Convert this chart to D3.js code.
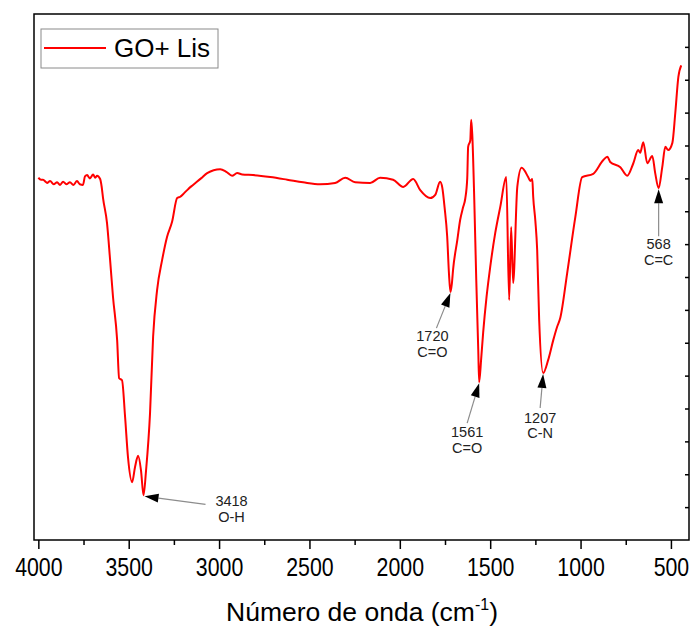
<!DOCTYPE html>
<html>
<head>
<meta charset="utf-8">
<script src="https://cdn.jsdelivr.net/npm/d3@7"></script>
<style>
  body { margin: 0; background: #fff; }
  text { font-family: "Liberation Sans", Arial, sans-serif; }
</style>
</head>
<body>
<svg id="chart" width="692" height="628"></svg>
<script>
"use strict";

// FTIR spectrum, GO + Lis (wavenumber in cm-1, transmittance in arbitrary %)
var wavenumber = [4000, 3985, 3974, 3960, 3952, 3935, 3915, 3896, 3880, 3863, 3845, 3825, 3806, 3786, 3770, 3753,
  3742, 3730, 3715, 3697, 3685, 3675, 3658, 3650, 3642, 3620, 3603, 3587, 3564, 3553, 3537, 3520, 3504,
  3481, 3465, 3448, 3432, 3418, 3404, 3382, 3365, 3343, 3315, 3288, 3260, 3232, 3215, 3199, 3170, 3144, 3100, 3066,
  2994, 2960, 2928, 2900, 2872, 2812, 2717, 2623, 2535, 2441, 2358, 2302, 2247, 2164, 2109, 2037,
  1981, 1926, 1887, 1832, 1804, 1777, 1765, 1752, 1738, 1728, 1720, 1712, 1705, 1682, 1666, 1650, 1638, 1627, 1622,
  1610, 1605, 1599, 1588, 1577, 1566, 1561, 1550, 1539, 1520, 1500, 1472, 1444, 1411, 1395, 1384, 1373, 1350,
  1326, 1290, 1278, 1267, 1262, 1250, 1240, 1229, 1207, 1179, 1151, 1130, 1112, 1074, 1029, 991, 930, 874, 852,
  836, 780, 742, 708, 681, 670, 653, 631, 603, 587, 568, 548, 531, 515, 492, 476, 459, 443];
var transmittance = [55.1, 54.8, 54.8, 54.5, 54.3, 54.6, 54.1, 54.4, 54.0, 54.5, 54.1, 54.4, 54.0, 54.6, 54.1, 54.0,
  55.3, 55.5, 55.0, 55.6, 55.1, 55.4, 54.9, 53.8, 52.0, 48.2, 42.6, 37.0, 30.4, 24.6, 24.3, 18.7, 12.6,
  8.8, 11.1, 12.8, 10.6, 6.8, 10.6, 19.3, 30.9, 38.0, 42.6, 46.1, 48.4, 52.0, 52.2, 52.6, 53.4, 54.0, 55.0, 55.8,
  56.4, 56.0, 55.4, 55.8, 55.6, 55.5, 55.2, 54.8, 54.4, 54.1, 54.3, 55.1, 54.4, 54.3, 55.1, 54.8,
  53.7, 54.9, 53.2, 52.0, 52.5, 54.5, 53.6, 50.5, 46.2, 40.5, 37.7, 39.0, 41.2, 45.6, 48.7, 50.6, 51.9, 55.0, 59.8,
  60.8, 63.9, 61.6, 51.7, 39.5, 28.9, 24.0, 27.5, 31.5, 37.0, 41.5, 46.7, 50.7, 55.2, 36.5, 47.6, 39.1, 53.7,
  56.6, 55.2, 54.6, 54.9, 52.2, 48.5, 44.1, 33.5, 25.4, 27.4, 30.4, 32.4, 33.8, 40.6, 49.1, 55.2, 55.7, 57.8, 58.3,
  57.5, 56.7, 55.4, 57.3, 59.3, 58.9, 60.5, 57.3, 58.4, 55.8, 53.5, 56.7, 59.8, 59.3, 60.4, 64.9, 70.4, 72.2];

var xTickValues = [4000, 3500, 3000, 2500, 2000, 1500, 1000, 500];
var xMinorTickValues = [3750, 3250, 2750, 2250, 1750, 1250, 750];
var yTickValues = [5, 10, 15, 20, 25, 30, 35, 40, 45, 50, 55, 60, 65, 70, 75];

var peakWavenumber = [3418, 1720, 1561, 1207, 568];
var peakLabel = ["3418", "1720", "1561", "1207", "568"];
var peakGroup = ["O-H", "C=O", "C=O", "C-N", "C=C"];

var seriesName = "GO+ Lis";

// layout
var plotLeft = 34, plotRight = 689, plotTop = 14, plotBottom = 540;
// where each callout's line starts and its text sits, relative to the arrow tip
var calloutOffset = [
  {lx: 61, ly: 8, tx: 87, ty: 10},
  {lx: -14, ly: 35, tx: -18, ty: 48},
  {lx: -12, ly: 40, tx: -12, ty: 54},
  {lx: -3, ly: 34, tx: -3, ty: 49},
  {lx: 0, ly: 47, tx: 0, ty: 60}
];

var xScale = d3.scaleLinear()
               .domain([4024, 400])
               .range([plotLeft, plotRight]);

var yScale = d3.scaleLinear()
               .domain([0, 80])
               .range([plotBottom, plotTop]);

var svg = d3.select("#chart");

// spectrum
var line = d3.line()
             .x(function(i) { return xScale(wavenumber[i]); })
             .y(function(i) { return yScale(transmittance[i]); })
             .curve(d3.curveMonotoneX);

svg.append("path")
   .datum(d3.range(wavenumber.length))
   .attr("d", line)
   .attr("fill", "none")
   .attr("stroke", "#ff0000")
   .attr("stroke-width", 2)
   .attr("stroke-linejoin", "round");

// frame
svg.append("rect")
   .attr("x", plotLeft)
   .attr("y", plotTop)
   .attr("width", plotRight - plotLeft)
   .attr("height", plotBottom - plotTop)
   .attr("fill", "none")
   .attr("stroke", "#000")
   .attr("stroke-width", 1.5);

// bottom axis: minor then major ticks
svg.append("g")
   .attr("transform", "translate(0," + plotBottom + ")")
   .call(d3.axisBottom(xScale).tickValues(xMinorTickValues).tickSize(5).tickFormat(""))
   .call(function(g) { g.select(".domain").remove(); })
   .selectAll("line").attr("stroke-width", 1.5);

var xAxis = svg.append("g")
   .attr("transform", "translate(0," + plotBottom + ")")
   .call(d3.axisBottom(xScale).tickValues(xTickValues).tickSize(9).tickFormat(d3.format("d")));

xAxis.select(".domain").remove();
xAxis.selectAll("line").attr("stroke-width", 1.5);
xAxis.selectAll("text")
     .attr("y", 18)
     .attr("dy", "0.71em")
     .attr("fill", "#000")
     .style("font-size", "26px")
     .attr("transform", "scale(0.82,1)");

// right axis, inward ticks without labels
svg.append("g")
   .attr("transform", "translate(" + plotRight + ",0)")
   .call(d3.axisLeft(yScale).tickValues(yTickValues).tickSize(4).tickFormat(""))
   .call(function(g) { g.select(".domain").remove(); })
   .selectAll("line").attr("stroke-width", 1.5);

// callouts
peakWavenumber.forEach(function(wn, k) {
  var idx = wavenumber.indexOf(wn);
  var tipX = xScale(wn) + (k === 0 ? 1 : 0);
  var tipY = yScale(transmittance[idx]) + 1;
  var off = calloutOffset[k];
  var sx = tipX + off.lx, sy = tipY + off.ly;
  var dx = tipX - sx, dy = tipY - sy;
  var len = Math.sqrt(dx * dx + dy * dy);
  var ux = dx / len, uy = dy / len;
  var headLen = 14, headHalf = 4.5;
  var bx = tipX - ux * headLen, by = tipY - uy * headLen;

  svg.append("line")
     .attr("x1", sx).attr("y1", sy)
     .attr("x2", bx).attr("y2", by)
     .attr("stroke", "#8c8c8c")
     .attr("stroke-width", 1.2);

  svg.append("path")
     .attr("d", "M" + tipX + "," + tipY +
                "L" + (bx - uy * headHalf) + "," + (by + ux * headHalf) +
                "L" + (bx + uy * headHalf) + "," + (by - ux * headHalf) + "Z")
     .attr("fill", "#000");

  var label = svg.append("text")
     .attr("x", tipX + off.tx)
     .attr("y", tipY + off.ty)
     .attr("text-anchor", "middle")
     .style("font-size", "14.5px")
     .attr("fill", "#222");
  label.append("tspan").text(peakLabel[k]);
  label.append("tspan")
       .attr("x", tipX + off.tx)
       .attr("dy", 15.5)
       .text(peakGroup[k]);
});

// legend
var legend = svg.append("g");
legend.append("rect")
      .attr("x", 41).attr("y", 29)
      .attr("width", 177).attr("height", 39)
      .attr("fill", "#fff")
      .attr("stroke", "#8a8a8a")
      .attr("stroke-width", 1);
legend.append("line")
      .attr("x1", 44).attr("x2", 106)
      .attr("y1", 48).attr("y2", 48)
      .attr("stroke", "#ff0000")
      .attr("stroke-width", 2);
legend.append("text")
      .attr("x", 114).attr("y", 57)
      .style("font-size", "26px")
      .attr("fill", "#000")
      .text(seriesName);

// x axis title
var title = svg.append("text")
   .attr("x", 362)
   .attr("y", 621)
   .attr("text-anchor", "middle")
   .style("font-size", "26.5px")
   .attr("fill", "#000");
title.append("tspan").text("Número de onda (cm");
title.append("tspan").attr("dy", -11).style("font-size", "16px").text("-1");
title.append("tspan").attr("dy", 11).text(")");
</script>
</body>
</html>
